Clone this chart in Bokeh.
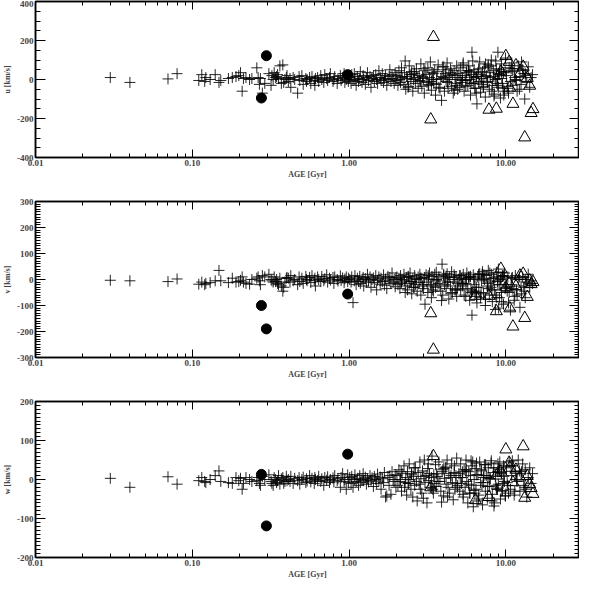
from bokeh.plotting import figure
from bokeh.layouts import column
from bokeh.models import Range1d, FixedTicker, PrintfTickFormatter, LinearAxis, LogAxis
from bokeh.embed import file_html
from bokeh.resources import INLINE

# ---------------- data ----------------
age = [
    0.030, 0.040, 0.070, 0.080,
    0.110, 0.115, 0.120, 0.122, 0.130, 0.140, 0.148, 0.152, 0.170, 0.180,
    0.190, 0.198, 0.203, 0.208, 0.212, 0.220, 0.232, 0.240, 0.258, 0.263,
    0.268, 0.272, 0.280, 0.290, 0.308, 0.318, 0.322, 0.328, 0.333, 0.340,
    0.345, 0.350, 0.355, 0.362, 0.370, 0.378, 0.383, 0.390, 0.398, 0.402,
    0.41, 0.42, 0.425, 0.44, 0.45, 0.47, 0.48, 0.485, 0.50, 0.51,
    0.53, 0.535, 0.54, 0.56, 0.57, 0.58, 0.60, 0.605, 0.61, 0.63,
    0.64, 0.66, 0.67, 0.69, 0.70, 0.72, 0.73, 0.75, 0.76, 0.79,
    0.80, 0.81, 0.84, 0.85, 0.88, 0.89, 0.91, 0.93, 0.94, 0.96,
    0.98, 0.99,
    1.01, 1.03, 1.04, 1.06, 1.08, 1.09, 1.11, 1.13, 1.15, 1.17,
    1.18, 1.21, 1.23, 1.24, 1.27, 1.29, 1.31, 1.33, 1.36, 1.38,
    1.40, 1.43, 1.45, 1.48, 1.50, 1.52, 1.55, 1.58, 1.60, 1.63,
    1.66, 1.68, 1.71, 1.74, 1.77, 1.80, 1.82, 1.85, 1.88, 1.91,
    1.94, 1.97, 1.99,
    2.02, 2.05, 2.08, 2.11, 2.13, 2.16, 2.18, 2.28, 2.24, 2.26,
    2.30, 2.33, 2.36, 2.38, 2.42, 2.45, 2.48, 2.51, 2.55, 2.58,
    2.62, 2.65, 2.69, 2.72, 2.76, 2.80, 2.83, 2.87, 2.91, 2.94,
    3.05, 3.02, 2.98, 3.10, 3.14, 3.18, 3.22, 3.26, 3.30, 3.35,
    3.38, 3.42, 3.47, 3.52, 3.56, 3.89, 3.92, 3.70, 3.74, 3.85,
    3.65, 3.60, 3.96, 4.01, 4.06, 4.11, 4.16, 4.22, 4.28, 4.33,
    4.38, 4.44, 4.51, 4.56, 4.62, 4.68, 4.74, 4.81, 4.86, 4.93,
    5.02, 5.08, 5.15, 5.22, 5.28, 5.35, 5.42, 5.50, 5.57, 5.64,
    5.72, 5.80, 5.88, 5.95, 6.03, 6.08, 6.20, 6.28, 6.36, 6.45,
    6.54, 6.63, 6.72, 6.81, 6.90, 7.00, 7.10, 7.20, 7.30, 7.40,
    7.50, 7.62, 7.73, 7.85, 7.96, 8.08, 8.20, 8.32, 8.45, 8.57,
    8.70, 8.90, 8.96, 9.10, 9.24, 9.38, 9.52, 9.66, 9.80, 9.95,
    5.30, 5.90, 6.50, 7.05, 7.70, 8.40, 9.00, 9.60, 6.15, 8.85,
    10.1, 10.3, 10.5, 10.7, 10.9, 11.1, 11.3, 11.5, 11.8, 12.0,
    12.3, 12.5, 12.8, 13.2, 13.3, 13.6, 13.9, 14.2, 14.5, 14.8,
    10.4, 11.0, 11.7, 12.6, 13.4,
    2.15, 2.40, 2.60, 2.85, 3.00, 3.20, 3.45, 3.62, 3.80, 4.02,
    4.25, 4.47, 4.70, 4.90, 5.12, 5.33, 5.55, 5.78, 6.00, 6.25,
    6.48, 6.70, 6.95, 7.18, 7.42, 7.66, 7.90, 8.15, 8.38, 8.62,
    8.88, 9.15, 9.42, 9.70, 9.90, 2.50, 3.35, 4.15, 4.80, 5.60,
    6.35, 7.25, 8.05, 8.75, 9.35, 10.2, 10.8, 11.4, 12.2, 13.0,
]

u = [
    10, -15, 3, 30,
    -5, 25, -10, 10, 0, 25, -15, -5, 5, 10,
    15, 20, 35, -60, 5, 10, 0, 5, 60, 10,
    -25, 5, -70, -20, 30, -30, 20, 0, 35, 10,
    15, 25, 5, 70, -20, 75, -15, 0, 10, 20,
    -10, 5, -40, 10, 0, -70, 15, -5, 20, -25,
    5, -10, 0, 10, -20, 15, -5, -30, 5, 10,
    -10, 20, 0, -15, 25, 5, -5, 10, 30, -10,
    0, 15, -20, 5, 20, -5, 10, 30, -15, 0,
    20, -10,
    10, -20, 25, -5, 30, 0, -30, 15, -10, 5,
    40, -15, 20, 0, -25, 10, 35, -5, 15, -40,
    5, 20, -10, 25, 0, -20, 45, 10, -5, 30,
    -15, 5, 20, -30, 0, 15, 50, -10, 25, 5,
    -20, 35, -5,
    20, -30, 45, 0, -15, 60, 10, 95, -25, 35,
    -50, 15, 5, -40, 70, 25, -10, 40, -60, 0,
    30, -20, 55, 10, -45, 20, -5, 80, -35, 15,
    45, -70, 5, 25, -15, 60, -30, 10, 90, -55,
    35, 0, -20, 50, -80, -107, 15, 75, -40, 5,
    40, -25, 65, 10, -60, 30, -10, 85, -45, 20,
    0, 55, -35, 25, -70, 45, 10, -20, 70, -50,
    30, -40, 60, -15, 10, 85, -60, 20, -5, 45,
    -30, 70, 0, -80, 25, 140, -20, 50, -45, 15,
    -125, 35, -10, 90, -65, 5, 40, -35, 60, -90,
    20, -15, 75, -50, 10, 100, -30, 45, -75, 0,
    55, 140, -40, 25, -95, 80, -20, 35, -60, 110,
    -5, 40, 15, -25, 65, -85, 30, -45, 95, 5,
    20, -45, 60, -10, 85, -30, 40, 0, -60, 70,
    15, -25, 50, -100, 30, -15, 65, -40, 10, 25,
    -70, 45, -5, 90, 20,
    15, -35, 40, -10, 55, -25, 30, 0, -45, 65,
    -15, 35, -55, 20, 0, 75, -35, 45, -20, 10,
    -70, 55, 25, -40, 80, -10, 35, -60, 15, 95,
    -30, 50, 5, -80, 40, 25, -10, 50, -30, 35,
    -45, 15, 70, -20, 40, -35, 55, 10, -50, 30,
]

v = [
    -3, -5, -8, 2,
    -18, -10, -20, -15, -12, -5, 35, -5, -12, 5,
    -10, -8, -3, 10, -10, -15, -18, 0, 5, 10,
    -5, -20, 15, 10, 20, 0, -5, -10, 10, -8,
    0, -15, -20, 5, -25, -45, -30, -10, 5, 8,
    5, -10, 15, -5, 0, -20, 10, -8, 5, -15,
    12, 0, -5, 8, -12, 15, -3, 5, -25, 10,
    0, -8, 12, -5, 3, 18, -10, 5, -2, 8,
    -15, 10, 0, -6, 14, -4, 6, -12, 2, 10,
    -8, 5,
    0, -10, 10, -89, -5, 15, -20, 5, -8, 12,
    -15, 0, 8, -25, 3, -10, 20, -5, 10, -30,
    0, 6, -12, 15, -40, -3, 10, -18, 5, -8,
    18, -22, 2, -35, 12, -5, 8, -15, 25, -10,
    0, -28, 6,
    10, -20, 5, -35, 15, -10, 0, -50, 20, -5,
    -25, 8, -40, 12, -15, 25, -8, -55, 3, -30,
    15, -20, 0, -45, 10, -12, 20, -60, 5, -25,
    -95, 8, -35, 18, -10, -50, 2, 25, -20, -70,
    12, -40, 0, 20, -30, -81, 59, -15, 10, -45,
    -5, 28, -60, 15, -20, 5, -35, 22, -10, -75,
    8, -25, 30, -50, 0, 18, -40, 10, -65, -15,
    -10, 15, -40, 5, -25, 20, -60, 0, -15, 25,
    -35, 8, -80, 12, -50, -137, 18, -20, 5, -45,
    -90, 10, -30, 22, -70, -5, 30, -55, 0, -100,
    15, -25, 35, -60, -10, 20, -85, 5, -40, -115,
    28, -20, 40, -70, 0, -50, 15, -95, 25, -30,
    -15, 10, -65, 20, -35, 5, -110, 12, -45, -8,
    -20, 10, -50, -118, 5, -35, -80, 15, -60, 0,
    -107, -25, 10, -45, -70, -10, 20, -30, -5, -15,
    -90, 8, -40, -55, 0,
    -15, 10, -30, 5, -20, 15, -45, 0, -25, 20,
    -10, -55, 8, -35, 15, -20, -65, 10, -40, 0,
    -30, 20, -50, 5, -75, -15, 25, -40, -5, -60,
    10, -20, -85, 15, -35, -8, -25, 12, -40, 3,
    -55, 18, -30, -70, 5, -45, -20, -65, 10, -30,
]

w = [
    3, -20, 7, -12,
    -3, 5, -5, -8, 0, 10, 22, -5, -8, -10,
    5, -3, 3, -25, -10, 5, 0, -5, -3, 5,
    -10, -15, 8, 0, 12, -5, -10, -15, 5, 0,
    -8, -3, 10, -12, 2, 5, -10, -5, 8, -3,
    0, -5, 8, -10, 3, -3, 5, -12, 0, 6,
    -8, 2, -4, 10, -6, 3, -10, 5, 0, -3,
    8, -5, 2, -15, 5, -2, 7, -8, 0, 4,
    -6, 10, -3, 2, -20, 5, 15, -5, 0, -25,
    12, -8,
    5, -10, 8, -20, 0, 12, -5, 3, -15, 10,
    -8, 0, 15, -3, 6, -12, 2, -6, 10, -2,
    4, -18, 8, 0, -10, 14, -4, 6, -25, 2,
    -8, 18, -45, -42, 5, -15, 10, -38, 20, 0,
    -5, 12, -20,
    10, -15, 25, -5, 0, -30, 15, -8, 35, -20,
    5, -40, 20, -10, 40, 0, -25, 12, -45, 8,
    -15, 30, -5, -55, 18, -12, 45, 2, -35, 22,
    -8, 50, -48, 10, -60, 28, -3, 15, -20, 5,
    60, -25, 12, -10, 38, -58, 20, -5, 45, -30,
    8, -18, 25, -42, 3, 30, -12, 50, -20, 15,
    -35, 5, 40, -8, -52, 18, -25, 10, 55, -15,
    15, -30, 40, -10, 5, -45, 25, -20, 50, -5,
    -60, 20, -35, 10, -15, 35, -70, 0, 28, -25,
    -55, 12, -40, 45, -8, 22, -65, 5, 38, -30,
    10, -48, 30, -18, 2, 48, -38, 18, -60, 8,
    -22, 40, -12, 25, -50, 15, -28, 35, -5, -42,
    20, -35, 42, -15, 5, -68, 30, -10, 45, -25,
    30, -15, 45, -25, 10, 35, -40, 20, -5, 50,
    -30, 15, 40, -20, 25, -45, 5, 30, -10, 15,
    -35, 48, 0, 20, -25,
    20, -10, 30, -25, 8, 40, -35, 15, -5, 28,
    -45, 10, 35, -20, 5, -38, 22, -12, 48, -28,
    12, -50, 25, -8, 38, -18, 2, -55, 30, -15,
    20, 45, -30, 8, -42, 15, -22, 32, -10, 25,
    -35, 10, 42, -25, 18, -8, 35, -30, 22, -15,
]

tri_age = [3.32, 3.45, 6.4, 7.8, 8.7, 9.3, 10.0, 10.5, 10.6, 11.1, 11.6, 12.3, 12.9, 13.2, 13.7, 14.2, 14.5, 14.9]
tri_u = [-205, 218, 0, -155, -150, 40, 120, 90, -42, -125, 73, 30, 65, -297, 8, -32, -172, -152]
tri_v = [-130, -270, -63, -63, -122, 41, -30, -15, -111, -181, -26, 15, 22, -148, -67, -4, -18, -10]
tri_w = [-20, 60, -53, -45, 10, 20, 77, 43, 30, -7, 25, 5, 85, -47, 9, -12, -22, -37]

circ_age = [0.276, 0.297, 0.98]
circ_u = [-95, 122, 25]
circ_v = [-100, -190, -56]
circ_w = [13, -119, 65]

x_major = [0.01, 0.1, 1.0, 10.0]
x_minor = [m * d for d in [0.01, 0.1, 1.0, 10.0] for m in range(2, 10)]

panels = [
    dict(y=u, ty=tri_u, cy=circ_u, label="u [km/s]", lim=400,
         major=[-400, -200, 0, 200, 400], step=50),
    dict(y=v, ty=tri_v, cy=circ_v, label="v [km/s]", lim=300,
         major=[-300, -200, -100, 0, 100, 200, 300], step=10),
    dict(y=w, ty=tri_w, cy=circ_w, label="w [km/s]", lim=200,
         major=[-200, -100, 0, 100, 200], step=10),
]

FONT = "Liberation Serif"


def style_axis(ax, labels, major_len, minor_len):
    ax.axis_line_color = "black"
    ax.axis_line_width = 1.5
    ax.major_tick_line_color = "black"
    ax.minor_tick_line_color = "black"
    ax.major_tick_in = major_len
    ax.major_tick_out = 0
    ax.minor_tick_in = minor_len
    ax.minor_tick_out = 0
    ax.major_label_text_font = FONT
    ax.major_label_text_font_style = "bold"
    ax.axis_label_text_font = FONT
    ax.axis_label_text_font_style = "bold"
    ax.axis_label_text_font_size = "8px"
    ax.major_label_text_font_size = "9px"
    if labels:
        ax.major_label_standoff = 3
    else:
        ax.major_label_text_alpha = 0
        ax.major_label_text_font_size = "1px"
        ax.major_label_standoff = 0
        ax.axis_label_standoff = 0


figs = []
heights = [181, 200, 200]
tops = [1, 20, 20]
for i, pn in enumerate(panels):
    lim = pn["lim"]
    p = figure(width=579, height=heights[i], x_axis_type="log",
               x_range=Range1d(0.01, 29.5), y_range=Range1d(-lim, lim),
               output_backend="svg", toolbar_location=None,
               min_border_left=24, min_border_right=0,
               min_border_top=tops[i], min_border_bottom=24)
    p.grid.visible = False
    p.outline_line_color = "black"
    p.outline_line_width = 1.5
    p.background_fill_color = "white"
    p.border_fill_color = "white"

    yminor = list(range(-lim, lim + 1, pn["step"]))

    p.xaxis.ticker = FixedTicker(ticks=x_major, minor_ticks=x_minor)
    p.xaxis.formatter = PrintfTickFormatter(format="%.2f")
    p.xaxis.axis_label = "AGE [Gyr]"
    p.xaxis.axis_label_standoff = 1
    p.yaxis.ticker = FixedTicker(ticks=pn["major"], minor_ticks=yminor)
    p.yaxis.formatter = PrintfTickFormatter(format="%d")
    p.yaxis.axis_label = pn["label"]
    for ax in p.xaxis:
        style_axis(ax, True, 8, 4)
        ax.major_label_standoff = 2
    for ax in p.yaxis:
        style_axis(ax, True, 10, 5)
        ax.major_label_standoff = 2
        ax.axis_label_standoff = 2

    top = LogAxis(ticker=FixedTicker(ticks=x_major, minor_ticks=x_minor))
    style_axis(top, False, 8, 4)
    p.add_layout(top, "above")
    right = LinearAxis(ticker=FixedTicker(ticks=pn["major"], minor_ticks=yminor))
    style_axis(right, False, 10, 5)
    p.add_layout(right, "right")

    p.scatter(age, pn["y"], marker="cross", size=11, line_color="black",
              line_width=1, line_alpha=0.85)
    p.scatter(tri_age, pn["ty"], marker="triangle", size=12, line_color="black",
              fill_color=None, line_width=1)
    p.scatter(circ_age, pn["cy"], marker="circle", size=10, line_color="black",
              fill_color="black")
    figs.append(p)

layout = column(*figs, spacing=0)
open("out.html", "w").write(file_html(layout, INLINE))
